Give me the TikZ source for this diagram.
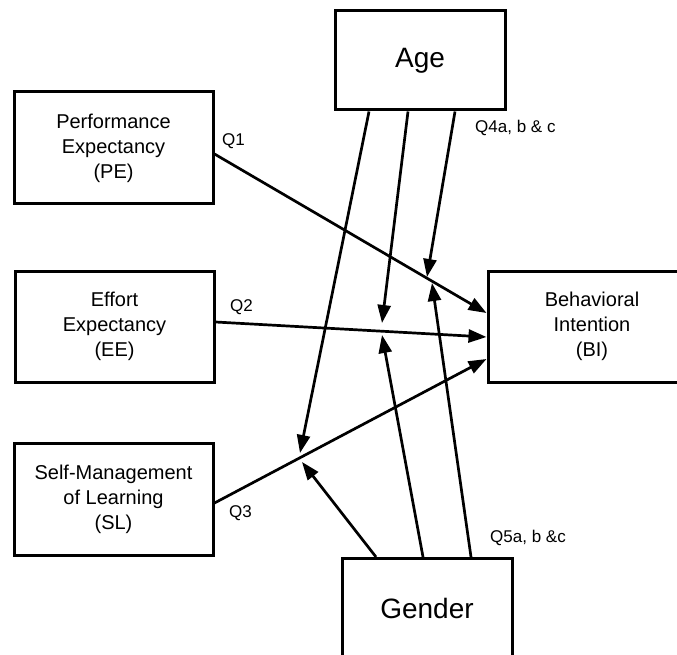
\documentclass[tikz,border=0pt]{standalone}
\usepackage{fontspec}
\setmainfont{Liberation Sans}
\usetikzlibrary{arrows.meta}
\begin{document}
\begin{tikzpicture}[x=1pt,y=-1pt,
  box/.style={draw, line width=3pt, inner sep=0pt, align=center,
    font=\fontsize{20}{25}\selectfont},
  bigbox/.style={draw, line width=3pt, inner sep=0pt,
    minimum width=170pt, minimum height=99pt, font=\fontsize{28}{32}\selectfont},
  link/.style={line width=2.7pt, -{Triangle[length=18pt,width=13pt]}},
  qlabel/.style={font=\fontsize{17}{20}\selectfont, inner sep=0pt}]
  \clip (0,0) rectangle (677,655);
  \fill[white] (0,0) rectangle (677,655);

  % constructs
  \node[bigbox] (age) at (420,60.5) {Age};
  \node[bigbox] (gender) at (427,608) {Gender};
  \node[box, minimum width=199pt, minimum height=112pt] (pe) at (113.5,148)
    {Performance\\Expectancy\\(PE)};
  \node[box, minimum width=199pt, minimum height=111pt] (ee) at (114.5,326.5)
    {Effort\\Expectancy\\(EE)};
  \node[box, minimum width=199pt, minimum height=112pt] (sl) at (113.5,499)
    {Self-Management\\of Learning\\(SL)};
  \node[box, minimum width=208pt, minimum height=111pt] (bi) at (592,326.5)
    {Behavioral\\Intention\\(BI)};

  % moderator meeting points on the direct paths
  \coordinate (pa) at (427,277);
  \coordinate (pg) at (432,283);
  \coordinate (ea) at (382,323);
  \coordinate (eg) at (382,335);
  \coordinate (sa) at (300,453);
  \coordinate (sg) at (302,462);

  % direct paths
  \draw[link] ([yshift=-6pt]pe.east) -- ([yshift=13.5pt]bi.west);
  \draw[link] ([yshift=4.5pt]ee.east) -- ([yshift=-10.5pt]bi.west);
  \draw[link] ([yshift=-4pt]sl.east) -- ([yshift=-32.5pt]bi.west);

  % age moderation
  \draw[link] ([xshift=-51pt]age.south) -- (sa);
  \draw[link] ([xshift=-12pt]age.south) -- (ea);
  \draw[link] ([xshift=35pt]age.south) -- (pa);

  % gender moderation
  \draw[link] ([xshift=-51pt]gender.north) -- (sg);
  \draw[link] ([xshift=-4pt]gender.north) -- (eg);
  \draw[link] ([xshift=44pt]gender.north) -- (pg);

  % path labels
  \node[qlabel, anchor=west] (q1) at (222,141) {Q1};
  \node[qlabel, anchor=west] (q2) at (230,307) {Q2};
  \node[qlabel, anchor=west] (q3) at (229,513) {Q3};
  \node[qlabel, anchor=west] (q4) at (475,128) {Q4a, b \& c};
  \node[qlabel, anchor=west] (q5) at (490,538) {Q5a, b \&c};
\end{tikzpicture}
\end{document}
